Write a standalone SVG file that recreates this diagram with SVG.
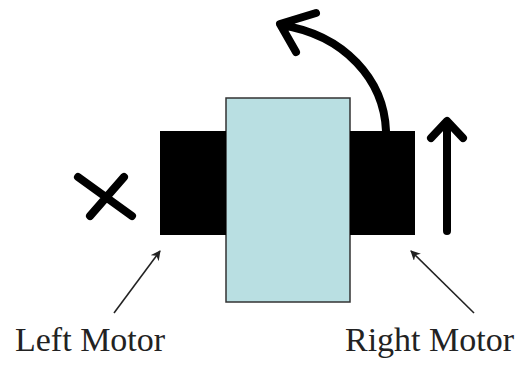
<svg xmlns="http://www.w3.org/2000/svg" width="530" height="367" viewBox="0 0 530 367">
<defs>
<style>
.motor{fill:#000}
.bold{fill:none;stroke:#000;stroke-width:8;stroke-linecap:round;stroke-linejoin:round}
.thin{fill:none;stroke:#222;stroke-width:1.6}
.lbl{font-family:"Liberation Serif",serif;font-size:34px;fill:#222}
</style>
<marker id="ah" markerWidth="10" markerHeight="10" refX="9" refY="5" orient="auto" markerUnits="userSpaceOnUse">
<path d="M0,0 L10,5 L0,10 L3,5 Z" fill="#222"/>
</marker>
</defs>
<rect width="530" height="367" fill="#fff"/>
<g id="body"><rect x="226" y="98" width="124" height="204" fill="#b9dfe2" stroke="#333" stroke-width="1.5"/></g>
<g id="left-motor"><rect class="motor" x="160" y="131" width="66" height="104"/></g>
<g id="right-motor"><rect class="motor" x="350" y="131" width="65" height="104"/></g>
<g id="x-mark"><path class="bold" d="M78,177 L132,216 M124,177 L90,216"/></g>
<g id="up-arrow"><path class="bold" d="M447,231 L447,122 M431,138 L447,121 L463,138"/></g>
<g id="turn-arrow"><path class="bold" d="M386,131 C384,80 345,35 281,25 M316,13 L280,24 L296,52"/></g>
<g id="connectors">
<path class="thin" d="M114,313 L160,251" marker-end="url(#ah)"/>
<path class="thin" d="M474,313 L411,251" marker-end="url(#ah)"/>
</g>
<g id="labels">
<text class="lbl" x="15" y="351">Left Motor</text>
<text class="lbl" x="345" y="351">Right Motor</text>
</g>
</svg>
